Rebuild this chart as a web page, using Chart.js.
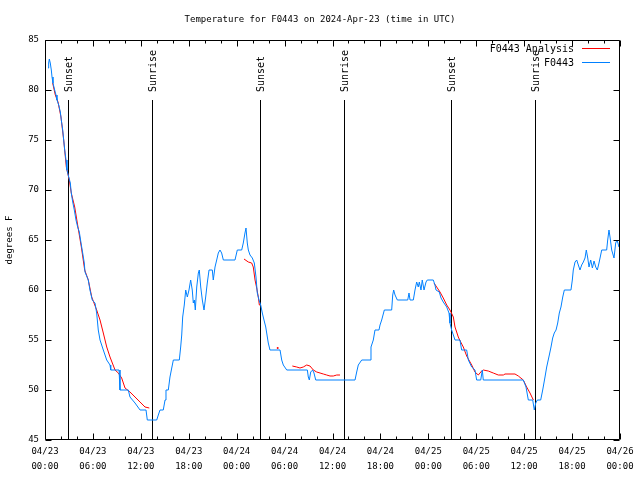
<!DOCTYPE html>
<html><head><meta charset="utf-8">
<script src="https://cdn.jsdelivr.net/npm/chart.js@4/dist/chart.umd.min.js"></script>
<style>html,body{margin:0;padding:0;background:#fff}canvas{display:block}</style>
</head><body>
<canvas id="c" width="640" height="480"></canvas>
<script>
// ---- data (hours since 2024-04-23 00:00 UTC, degrees F) ----
const obsHours = [0.38,0.46,0.54,0.66,0.79,0.88,1.00,1.21,1.38,1.50,
1.72,1.92,2.04,2.22,2.34,2.47,2.63,2.75,2.97,3.17,
3.29,3.47,3.67,3.88,4.09,4.30,4.51,4.72,4.92,5.01,
5.42,5.63,5.92,6.26,6.47,6.67,6.89,7.30,7.73,8.14,
8.23,8.77,9.27,9.39,10.43,10.64,11.27,11.90,12.65,12.81,
13.99,14.19,14.40,14.81,15.03,15.15,15.44,15.65,15.87,16.07,
16.82,16.99,17.12,17.24,17.44,17.62,17.82,18.03,18.24,18.44,
18.57,18.70,18.82,19.00,19.20,19.32,19.50,19.70,19.91,20.12,
20.32,20.54,20.95,21.07,21.29,21.50,21.70,21.91,22.12,22.33,
23.79,24.08,24.63,24.83,25.04,25.17,25.33,25.46,25.67,25.96,
26.21,26.42,26.58,26.80,27.01,27.21,27.42,27.64,27.76,27.96,
28.17,29.43,29.64,29.84,30.27,32.85,32.97,33.10,33.27,33.52,
33.68,33.90,38.82,39.03,39.23,39.66,40.70,40.82,41.11,41.32,
41.82,41.95,42.16,42.49,43.41,43.54,43.66,43.83,44.12,45.42,
45.58,45.71,46.12,46.33,46.54,46.74,46.87,47.08,47.24,47.46,
47.71,47.87,48.62,48.83,48.96,49.37,49.59,49.87,50.30,50.59,
50.71,50.92,51.34,51.96,52.17,52.80,53.01,53.43,53.84,54.05,
54.56,54.76,54.88,59.89,60.23,60.52,61.07,61.27,61.45,61.65,
62.07,62.32,62.61,62.82,63.15,63.36,63.57,63.77,63.99,64.20,
64.40,64.61,64.83,65.03,65.86,66.03,66.15,66.37,66.58,66.78,
66.99,67.20,67.41,67.62,67.78,67.96,68.12,68.33,68.54,68.75,
68.96,69.16,69.37,69.58,69.71,70.33,70.46,70.62,70.75,70.96,
71.25,71.46,71.63,71.88,72.0];
const obsTemps = [82.2,82.7,83.1,82.7,82.0,81.3,80.7,80.0,79.5,79.0,
78.5,77.8,77.0,76.0,75.0,74.0,73.0,72.0,71.3,70.7,
69.7,68.8,68.0,67.0,66.3,65.8,64.7,63.7,62.7,61.8,
61.0,60.0,59.0,58.7,57.7,56.0,55.0,54.0,53.0,52.5,
52.0,52.0,52.0,50.0,50.0,49.3,48.7,48.0,48.0,47.0,
47.0,47.5,48.0,48.0,49.0,50.0,50.0,51.3,52.2,53.0,
53.0,54.3,55.5,57.3,58.5,60.0,59.3,60.0,61.0,60.0,
58.7,59.0,58.0,60.3,61.7,62.0,60.3,59.0,58.0,59.3,
60.7,62.0,62.0,61.0,62.3,63.0,63.7,64.0,63.7,63.0,
63.0,64.0,64.0,64.7,65.7,66.2,64.7,64.0,63.5,63.2,
62.7,61.3,59.7,59.0,58.5,57.7,57.0,56.3,55.7,54.7,
54.0,54.0,53.0,52.5,52.0,52.0,51.3,51.0,51.8,52.0,
51.7,51.0,51.0,51.8,52.5,53.0,53.0,54.3,55.0,56.0,
56.0,56.5,57.0,58.0,58.0,59.5,60.0,59.5,59.0,59.0,
59.7,59.0,59.0,60.0,60.8,60.3,60.8,60.0,61.0,60.0,
60.8,61.0,61.0,60.5,60.0,59.8,59.2,58.8,58.3,57.7,
56.7,56.0,55.0,55.0,54.0,54.0,53.0,52.3,52.0,51.0,
51.0,52.0,51.0,51.0,50.3,49.0,49.0,48.0,48.7,49.0,
49.0,50.0,51.3,52.3,53.5,54.3,55.2,55.7,56.0,56.7,
57.7,58.3,59.3,60.0,60.0,61.0,62.0,62.8,63.0,62.5,
62.0,62.5,62.8,63.2,64.0,63.2,62.3,63.0,62.2,62.9,
62.3,62.0,62.7,63.5,64.0,64.0,65.0,66.0,65.3,64.0,
63.2,64.7,65.0,64.3,64.5];

const anaHours = [0.96,1.29,1.63,2.00,2.34,2.67,3.04,3.29,3.72,4.13,
4.55,4.97,5.42,5.85,6.47,6.89,7.30,7.73,8.14,8.77,
9.18,9.60,10.02,10.64,11.27,11.90,12.52,13.06,13.5,
24.92,25.46,25.88,26.08,26.30,26.51,26.71,26.84,27.01,28.0,
29.14,30.0,
30.97,31.52,31.93,32.34,32.77,33.18,33.60,34.02,34.44,34.85,35.27,35.69,36.10,36.53,36.94,40.0,
48.71,49.46,49.87,50.30,50.71,51.13,51.34,51.75,52.05,52.38,
52.80,53.43,53.84,54.26,54.68,54.88,55.50,56.13,56.76,57.39,
57.60,58.85,59.27,59.89,60.31,60.73,61.15];
const anaTemps = [80.7,79.5,78.8,77.3,75.0,72.3,71.0,69.7,68.3,66.3,
64.3,62.0,61.0,59.3,58.0,57.0,55.7,54.3,53.3,52.0,
51.7,51.2,50.2,49.8,49.3,48.8,48.3,48.2,null,
63.1,62.8,62.7,62.3,61.0,60.2,59.3,58.5,58.5,null,
54.2,null,
52.4,52.3,52.2,52.3,52.5,52.4,52.0,51.8,51.7,51.6,51.5,51.4,51.4,51.5,51.5,null,
60.7,59.8,59.2,58.5,58.0,57.3,56.3,55.3,54.8,54.3,
53.4,52.5,51.8,51.5,51.9,52.0,51.9,51.7,51.5,51.5,
51.6,51.6,51.4,51.0,50.3,49.7,49.0];

const sunHours = [2.88, 13.44, 26.86, 37.46, 50.90, 61.40];
const sunLabels = ['Sunset','Sunrise','Sunset','Sunrise','Sunset','Sunrise'];

const xTickLabels = [['04/23','00:00'],['04/23','06:00'],['04/23','12:00'],['04/23','18:00'],
  ['04/24','00:00'],['04/24','06:00'],['04/24','12:00'],['04/24','18:00'],
  ['04/25','00:00'],['04/25','06:00'],['04/25','12:00'],['04/25','18:00'],['04/26','00:00']];
const yTickValues = [45,50,55,60,65,70,75,80,85];

const seriesNames = ['F0443 Analysis','F0443'];
const seriesColors = ['#ff0000','#0080ff'];

// ---- chart ----
const FONT = '"DejaVu Sans Mono", "Liberation Mono", monospace';
const obsData = obsHours.map((h,i)=>({x:h,y:obsTemps[i]}));
const anaData = anaHours.map((h,i)=>({x:h,y:anaTemps[i]}));

const decor = {
  id:'decor',
  beforeDatasetsDraw(chart){
    const {ctx, chartArea:a, scales:{x}} = chart;
    const h = a.bottom - a.top;
    ctx.save();
    ctx.strokeStyle = '#000'; ctx.lineWidth = 1;
    ctx.fillStyle = '#000';
    ctx.font = '10px ' + FONT;
    sunHours.forEach((sh,i)=>{
      const px = Math.round(x.getPixelForValue(sh)) + 0.5;
      ctx.beginPath();
      ctx.moveTo(px, a.bottom);
      ctx.lineTo(px, a.bottom - 0.85*h);
      ctx.stroke();
      ctx.save();
      ctx.translate(px+1, a.bottom - 0.87*h);
      ctx.rotate(-Math.PI/2);
      ctx.textAlign = 'left'; ctx.textBaseline = 'middle';
      ctx.fillText(sunLabels[i], 0, 0);
      ctx.restore();
    });
    ctx.restore();
  },
  afterDraw(chart){
    const {ctx, chartArea:a, scales:{x,y}} = chart;
    ctx.save();
    ctx.strokeStyle = '#000'; ctx.lineWidth = 1;
    const L = a.left+0.5, R = a.right-0.5, T = a.top+0.5, B = a.bottom-0.5;
    ctx.beginPath();
    ctx.rect(L, T, R-L, B-T);
    // y ticks (inward, mirrored)
    y.ticks.forEach(t=>{
      const py = Math.round(y.getPixelForValue(t.value))+0.5;
      ctx.moveTo(L, py); ctx.lineTo(L+6, py);
      ctx.moveTo(R, py); ctx.lineTo(R-6, py);
    });
    // x ticks (major every 6h, minor every 2h)
    x.ticks.forEach(t=>{
      const px = Math.round(x.getPixelForValue(t.value))+0.5;
      const len = (t.value % 6 === 0) ? 6 : 3;
      ctx.moveTo(px, B); ctx.lineTo(px, B-len);
      ctx.moveTo(px, T); ctx.lineTo(px, T+len);
    });
    ctx.stroke();
    // legend (gnuplot style)
    ctx.font = '10px ' + FONT;
    ctx.textAlign = 'right'; ctx.textBaseline = 'middle';
    ctx.fillStyle = '#000';
    seriesNames.forEach((n,i)=>{
      const yy = a.top + 8 + i*14;
      ctx.fillText(n, a.right - 46, yy+1);
      ctx.strokeStyle = seriesColors[i];
      ctx.beginPath();
      ctx.moveTo(a.right - 38, yy + 0.5);
      ctx.lineTo(a.right - 10, yy + 0.5);
      ctx.stroke();
    });
    ctx.restore();
  }
};

new Chart(document.getElementById('c'), {
  type: 'line',
  data: {
    datasets: [
      { label: seriesNames[0], data: anaData, borderColor: seriesColors[0], backgroundColor: seriesColors[0],
        borderWidth: 1, spanGaps: false, tension: 0, order: 1,
        pointRadius: (c)=>{ const d=c.dataset.data, i=c.dataIndex;
          const prev = i>0 ? d[i-1].y : null, next = i<d.length-1 ? d[i+1].y : null;
          return (d[i].y!=null && prev==null && next==null) ? 1 : 0; },
        pointBorderWidth: 0 },
      { label: seriesNames[1], data: obsData, borderColor: seriesColors[1], backgroundColor: seriesColors[1],
        borderWidth: 1, tension: 0, pointRadius: 0, order: 0 }
    ]
  },
  options: {
    responsive: false,
    animation: false,
    devicePixelRatio: 1,
    layout: { padding: 0 },
    plugins: {
      legend: { display: false },
      tooltip: { enabled: false },
      title: { display: true, text: 'Temperature for F0443 on 2024-Apr-23 (time in UTC)',
        color: '#000', font: { family: FONT, size: 9, weight: 'normal', lineHeight: 1.2 },
        padding: { top: 14, bottom: 15.2 } }
    },
    scales: {
      x: {
        type: 'linear', min: 0, max: 72,
        grid: { display: false, drawTicks: false },
        border: { display: false },
        ticks: { stepSize: 2, autoSkip: false, maxRotation: 0, minRotation: 0, padding: 4,
          color: '#000', font: { family: FONT, size: 9, lineHeight: 1.667 },
          callback: (v)=> (v % 6 === 0) ? xTickLabels[v/6] : '' },
        afterFit: (s)=>{ s.height = 40; }
      },
      y: {
        type: 'linear', min: 45, max: 85,
        grid: { display: false, drawTicks: false },
        border: { display: false },
        ticks: { stepSize: 5, padding: 6, color: '#000', font: { family: FONT, size: 9 },
          callback: (v)=> yTickValues.includes(v) ? String(v) : '' },
        title: { display: true, text: 'degrees F', color: '#000', font: { family: FONT, size: 9 }, padding: { top: 4, bottom: 0 } },
        afterFit: (s)=>{ s.width = 45; }
      },
      y2: {
        type: 'linear', position: 'right', min: 45, max: 85,
        grid: { display: false, drawTicks: false },
        border: { display: false },
        ticks: { display: false },
        afterFit: (s)=>{ s.width = 20; }
      }
    }
  },
  plugins: [decor]
});
</script>
</body></html>
